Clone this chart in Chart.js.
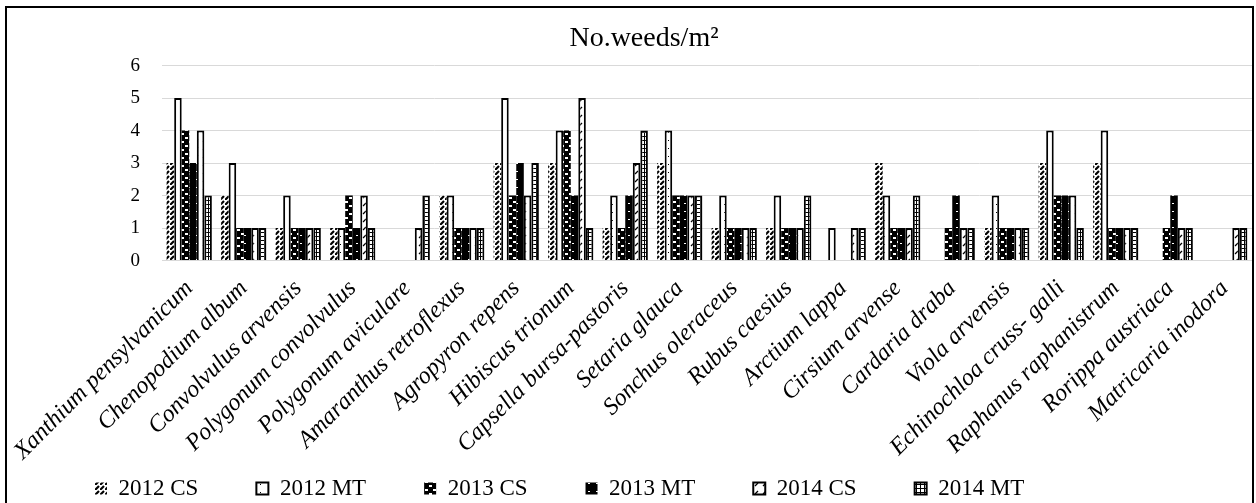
<!DOCTYPE html>
<html>
<head>
<meta charset="utf-8">
<script src="https://cdn.jsdelivr.net/npm/chart.js@4/dist/chart.umd.min.js"></script>
<style>
  html, body { margin: 0; padding: 0; background: #fff; }
  #wrap { width: 1256px; height: 503px; position: relative; }
</style>
</head>
<body>
<div id="wrap"><canvas id="weeds"></canvas></div>
<script>
var labels = [
  "Xanthium pensylvanicum",
  "Chenopodium album",
  "Convolvulus arvensis",
  "Polygonum convolvulus",
  "Polygonum aviculare",
  "Amaranthus retroflexus",
  "Agropyron repens",
  "Hibiscus trionum",
  "Capsella bursa-pastoris",
  "Setaria glauca",
  "Sonchus oleraceus",
  "Rubus caesius",
  "Arctium lappa",
  "Cirsium arvense",
  "Cardaria draba",
  "Viola arvensis",
  "Echinochloa cruss- galli",
  "Raphanus raphanistrum",
  "Rorippa austriaca",
  "Matricaria inodora",
];

var cs2012 = [3, 2, 1, 1, 0, 2, 3, 3, 1, 3, 1, 1, 0, 3, 0, 1, 3, 3, 0, 0];
var mt2012 = [5, 3, 2, 1, 0, 2, 5, 4, 2, 4, 2, 2, 1, 2, 0, 2, 4, 4, 0, 0];
var cs2013 = [4, 1, 1, 2, 0, 1, 2, 4, 1, 2, 1, 1, 0, 1, 1, 1, 2, 1, 1, 0];
var mt2013 = [3, 1, 1, 1, 0, 1, 3, 2, 2, 2, 1, 1, 0, 1, 2, 1, 2, 1, 2, 0];
var cs2014 = [4, 1, 1, 2, 1, 1, 2, 5, 3, 2, 1, 1, 1, 1, 1, 1, 2, 1, 1, 1];
var mt2014 = [2, 1, 1, 1, 2, 1, 3, 1, 4, 2, 1, 2, 1, 2, 1, 1, 1, 1, 1, 1];

var seriesNames = ["2012 CS", "2012 MT", "2013 CS", "2013 MT", "2014 CS", "2014 MT"];

// small tiles for the black & white fills
function makePattern(w, h, draw) {
  var c = document.createElement("canvas");
  c.width = w;
  c.height = h;
  var g = c.getContext("2d");
  draw(g);
  return g.createPattern(c, "repeat");
}

var hatch = makePattern(5, 5, function (g) {
  g.fillStyle = "#fff";
  g.fillRect(0, 0, 5, 5);
  g.strokeStyle = "#000";
  g.lineWidth = 2.2;
  g.beginPath();
  g.moveTo(0, 5);
  g.lineTo(4, 1);
  g.stroke();
});
var dots = makePattern(8, 8, function (g) {
  g.fillStyle = "#fff";
  g.fillRect(0, 0, 8, 8);
  g.fillStyle = "#000";
  g.fillRect(4, 4, 1, 1);
});
var confetti = makePattern(8, 8, function (g) {
  g.fillStyle = "#000";
  g.fillRect(0, 0, 8, 8);
  g.fillStyle = "#fff";
  g.fillRect(1, 1, 3, 2);
  g.fillRect(5, 5, 3, 2);
});
var darkDots = makePattern(8, 8, function (g) {
  g.fillStyle = "#000";
  g.fillRect(0, 0, 8, 8);
  g.fillStyle = "#fff";
  g.fillRect(4, 3, 2, 1);
});
var dashes = makePattern(8, 8, function (g) {
  g.fillStyle = "#fff";
  g.fillRect(0, 0, 8, 8);
  g.strokeStyle = "#000";
  g.lineWidth = 1.2;
  g.beginPath();
  g.moveTo(3, 6);
  g.lineTo(6, 3);
  g.stroke();
});
var grid = makePattern(4, 4, function (g) {
  g.fillStyle = "#fff";
  g.fillRect(0, 0, 4, 4);
  g.fillStyle = "#000";
  g.fillRect(0, 0, 4, 1);
  g.fillRect(0, 0, 1, 4);
});

var fills = [hatch, dots, confetti, darkDots, dashes, grid];
var borders = [0, 2, 0, 0, 2, 2];
var values = [cs2012, mt2012, cs2013, mt2013, cs2014, mt2014];

var datasets = seriesNames.map(function (name, i) {
  return {
    label: name,
    data: values[i],
    backgroundColor: fills[i],
    borderColor: "#000",
    borderWidth: borders[i],
    categoryPercentage: 0.83,
    barPercentage: 1.0,
  };
});

var LEGEND_PAD = 58;

var frame = {
  id: "frame",
  afterLayout: function (chart) {
    // keep the legend row low and to the left, like the original
    var lg = chart.legend;
    lg.left = 95 - LEGEND_PAD;
    lg.top = 477 - LEGEND_PAD;
  },
  beforeDraw: function (chart) {
    var ctx = chart.ctx;
    ctx.save();
    ctx.fillStyle = "#fff";
    ctx.fillRect(0, 0, chart.width, chart.height);
    ctx.restore();
  },
  afterDraw: function (chart) {
    var ctx = chart.ctx;
    ctx.save();
    ctx.strokeStyle = "#000";
    ctx.lineWidth = 2;
    ctx.strokeRect(6, 7, chart.width - 9, chart.height - 6);
    ctx.restore();
  },
};

var serif = "'Liberation Serif', 'Times New Roman', serif";
Chart.defaults.font.family = serif;
Chart.defaults.color = "#000";

var ctx = document.getElementById("weeds");
var myChart = new Chart(ctx, {
  type: "bar",
  data: { labels: labels, datasets: datasets },
  plugins: [frame],
  options: {
    responsive: true,
    maintainAspectRatio: false,
    animation: false,
    layout: { padding: { top: 22, left: 36, right: 4, bottom: 0 } },
    plugins: {
      title: {
        display: true,
        text: "No.weeds/m\u00b2",
        font: { size: 28, weight: "normal" },
        color: "#000",
        padding: { top: 0, bottom: 10 },
      },
      legend: {
        position: "bottom",
        align: "start",
        maxHeight: 31,
        labels: {
          boxWidth: 12,
          boxHeight: 12,
          padding: LEGEND_PAD,
          font: { size: 23 },
          color: "#000",
        },
      },
      tooltip: { enabled: false },
    },
    scales: {
      x: {
        grid: { display: false },
        border: { color: "#d9d9d9" },
        ticks: {
          font: { size: 24, style: "italic" },
          color: "#000",
          minRotation: 45,
          maxRotation: 45,
          autoSkip: false,
          padding: 6,
        },
      },
      y: {
        min: 0,
        max: 6,
        afterFit: function (scale) { scale.width = 126; },
        grid: { color: "#d9d9d9", drawTicks: false },
        border: { display: false },
        ticks: {
          stepSize: 1,
          padding: 22,
          font: { size: 19 },
          color: "#000",
        },
      },
    },
  },
});
</script>
</body>
</html>
